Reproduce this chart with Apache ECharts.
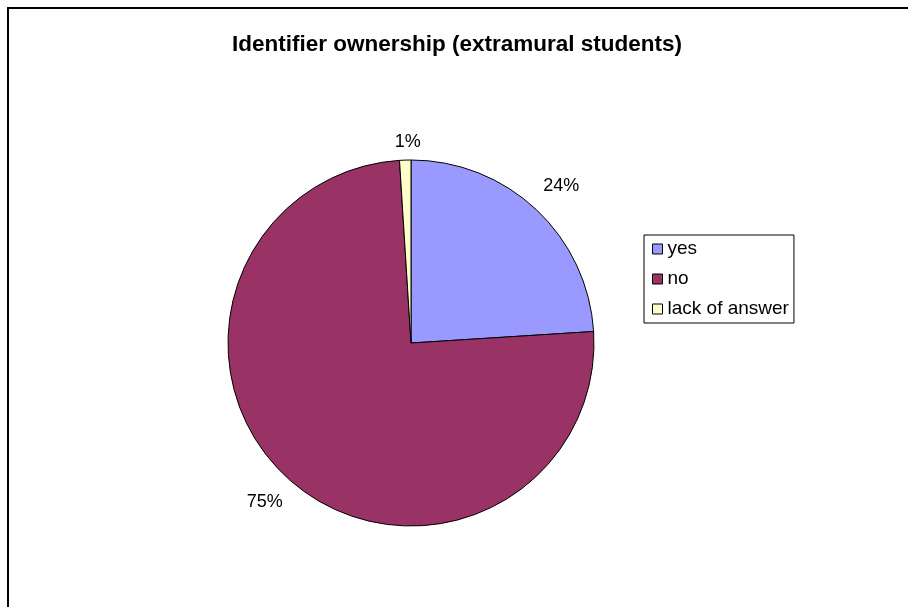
<!DOCTYPE html>
<html>
<head>
<meta charset="utf-8">
<title>Identifier ownership (extramural students)</title>
<script src="https://cdn.jsdelivr.net/npm/echarts@6/dist/echarts.min.js"></script>
<style>
  html, body { margin: 0; padding: 0; background: #ffffff; }
  #chart { width: 908px; height: 607px; }
</style>
</head>
<body>
<div id="chart"></div>
<script>
// Survey answers, in percent
const categories = ['yes', 'no', 'lack of answer'];
const shares = [24, 75, 1];
const sliceColors = ['#9999FF', '#993366', '#FFFFCC'];

// Label placement tweaks per slice (line length / distance from the line end)
const labelLineLengths = [32, 29, 18];
const labelDistances = [-15, -12, -16];

const FONT = "'Liberation Sans', Arial, sans-serif";

const chart = echarts.init(document.getElementById('chart'), null, { renderer: 'canvas' });

const pieData = categories.map((name, i) => ({
  name: name,
  value: shares[i],
  itemStyle: { color: sliceColors[i] },
  labelLine: { show: false, length: labelLineLengths[i], length2: 0 },
  label: { distanceToLabelLine: labelDistances[i] }
}));

chart.setOption({
  animation: false,
  backgroundColor: '#ffffff',
  title: {
    text: 'Identifier ownership (extramural students)',
    left: 232,
    top: 33,
    padding: 0,
    textStyle: { fontFamily: FONT, fontSize: 22.5, fontWeight: 'bold', color: '#000000' }
  },
  legend: {
    orient: 'vertical',
    left: 644,
    top: 235,
    padding: [4, 5, 4, 8],
    itemWidth: 10,
    itemHeight: 10,
    itemGap: 10,
    icon: 'rect',
    borderColor: '#000000',
    borderWidth: 1,
    backgroundColor: '#ffffff',
    itemStyle: { borderColor: '#000000', borderWidth: 1 },
    textStyle: { fontFamily: FONT, fontSize: 19, lineHeight: 20, color: '#000000' },
    data: categories
  },
  graphic: [{
    type: 'rect',
    shape: { x: 8, y: 8, width: 930, height: 640 },
    style: { fill: 'none', stroke: '#000000', lineWidth: 2 },
    silent: true,
    z: 100
  }],
  series: [{
    type: 'pie',
    center: [411, 343],
    radius: 183,
    startAngle: 90,
    clockwise: true,
    avoidLabelOverlap: false,
    emphasis: { disabled: true },
    itemStyle: { borderColor: '#000000', borderWidth: 1 },
    label: {
      show: true,
      position: 'outside',
      fontFamily: FONT,
      fontSize: 18,
      color: '#000000',
      formatter: p => Math.round(p.percent) + '%'
    },
    labelLine: { show: false },
    data: pieData
  }]
});
</script>
</body>
</html>
